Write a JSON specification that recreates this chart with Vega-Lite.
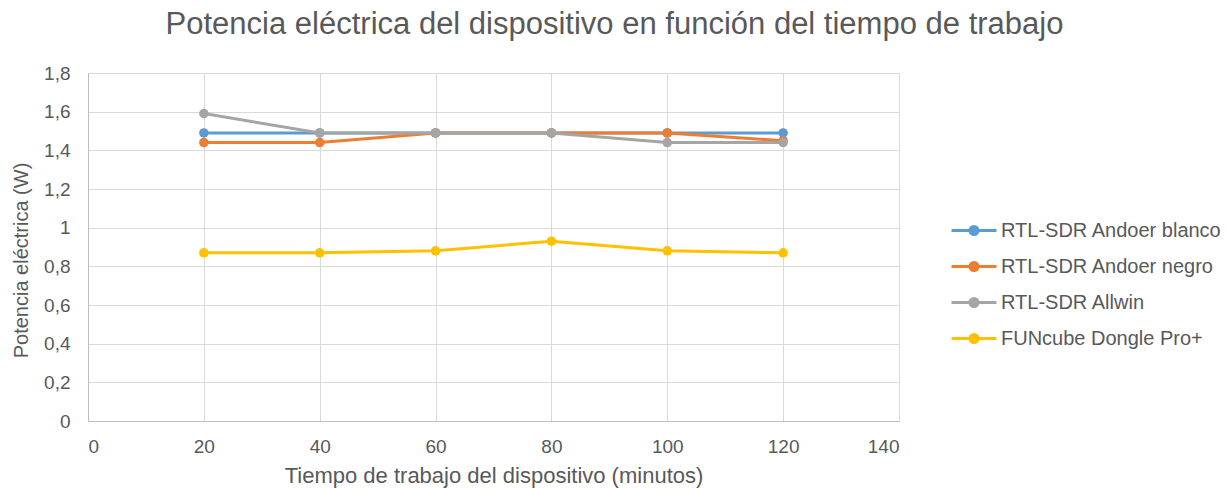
{
  "$schema": "https://vega.github.io/schema/vega-lite/v6.json",
  "autosize": {"type": "none"},
  "width": 811,
  "height": 348,
  "padding": {"left": 88, "top": 73, "right": 328, "bottom": 67},
  "background": "white",
  "config": {
    "font": "Liberation Sans",
    "view": {"stroke": "#D9D9D9"},
    "axis": {
      "gridColor": "#D9D9D9",
      "gridWidth": 1,
      "domainColor": "#BFBFBF",
      "ticks": false,
      "labelColor": "#595959",
      "labelFontSize": 19,
      "titleColor": "#595959",
      "titleFontWeight": "normal"
    }
  },
  "title": {
    "text": "Potencia eléctrica del dispositivo en función del tiempo de trabajo",
    "fontSize": 31,
    "fontWeight": "normal",
    "color": "#595959",
    "anchor": "middle",
    "dx": 121,
    "dy": 36,
    "baseline": "bottom",
    "offset": 28
  },
  "data": {
    "values": [
      {"serie": "RTL-SDR Andoer blanco", "t": 20, "p": 1.49},
      {"serie": "RTL-SDR Andoer blanco", "t": 40, "p": 1.49},
      {"serie": "RTL-SDR Andoer blanco", "t": 60, "p": 1.49},
      {"serie": "RTL-SDR Andoer blanco", "t": 80, "p": 1.49},
      {"serie": "RTL-SDR Andoer blanco", "t": 100, "p": 1.49},
      {"serie": "RTL-SDR Andoer blanco", "t": 120, "p": 1.49},
      {"serie": "RTL-SDR Andoer negro", "t": 20, "p": 1.44},
      {"serie": "RTL-SDR Andoer negro", "t": 40, "p": 1.44},
      {"serie": "RTL-SDR Andoer negro", "t": 60, "p": 1.49},
      {"serie": "RTL-SDR Andoer negro", "t": 80, "p": 1.49},
      {"serie": "RTL-SDR Andoer negro", "t": 100, "p": 1.49},
      {"serie": "RTL-SDR Andoer negro", "t": 120, "p": 1.45},
      {"serie": "RTL-SDR Allwin", "t": 20, "p": 1.59},
      {"serie": "RTL-SDR Allwin", "t": 40, "p": 1.49},
      {"serie": "RTL-SDR Allwin", "t": 60, "p": 1.49},
      {"serie": "RTL-SDR Allwin", "t": 80, "p": 1.49},
      {"serie": "RTL-SDR Allwin", "t": 100, "p": 1.44},
      {"serie": "RTL-SDR Allwin", "t": 120, "p": 1.44},
      {"serie": "FUNcube Dongle Pro+", "t": 20, "p": 0.87},
      {"serie": "FUNcube Dongle Pro+", "t": 40, "p": 0.87},
      {"serie": "FUNcube Dongle Pro+", "t": 60, "p": 0.88},
      {"serie": "FUNcube Dongle Pro+", "t": 80, "p": 0.93},
      {"serie": "FUNcube Dongle Pro+", "t": 100, "p": 0.88},
      {"serie": "FUNcube Dongle Pro+", "t": 120, "p": 0.87}
    ]
  },
  "mark": {"type": "line", "strokeWidth": 3, "point": {"filled": true, "size": 90}},
  "encoding": {
    "x": {
      "field": "t",
      "type": "quantitative",
      "scale": {"domain": [0, 140], "nice": false},
      "axis": {
        "values": [0, 20, 40, 60, 80, 100, 120, 140],
        "title": "Tiempo de trabajo del dispositivo (minutos)",
        "titleFontSize": 22,
        "labelPadding": 16,
        "titlePadding": 9
      }
    },
    "y": {
      "field": "p",
      "type": "quantitative",
      "scale": {"domain": [0, 1.8], "nice": false},
      "axis": {
        "values": [0, 0.2, 0.4, 0.6, 0.8, 1, 1.2, 1.4, 1.6, 1.8],
        "labelExpr": "replace(format(datum.value, '.1~f'), '.', ',')",
        "title": "Potencia eléctrica (W)",
        "titleFontSize": 20,
        "titleY": 187,
        "labelPadding": 18,
        "titlePadding": 12
      }
    },
    "color": {
      "field": "serie",
      "type": "nominal",
      "scale": {
        "domain": ["RTL-SDR Andoer blanco", "RTL-SDR Andoer negro", "RTL-SDR Allwin", "FUNcube Dongle Pro+"],
        "range": ["#5B9BD5", "#ED7D31", "#A5A5A5", "#FFC000"]
      },
      "legend": {
        "title": null,
        "orient": "none",
        "legendX": 874.5,
        "legendY": 146,
        "symbolType": "M-2.25,0H2.25M0.1,0A0.1,0.1,0,1,1,-0.1,0A0.1,0.1,0,1,1,0.1,0M0.25,0A0.25,0.25,0,1,1,-0.25,0A0.25,0.25,0,1,1,0.25,0M0.4,0A0.4,0.4,0,1,1,-0.4,0A0.4,0.4,0,1,1,0.4,0",
        "symbolSize": 400,
        "symbolStrokeWidth": 3,
        "labelOffset": 15.5,
        "labelFontSize": 20,
        "labelColor": "#595959",
        "rowPadding": 14,
        "padding": 0,
        "labelLimit": 300
      }
    }
  }
}
